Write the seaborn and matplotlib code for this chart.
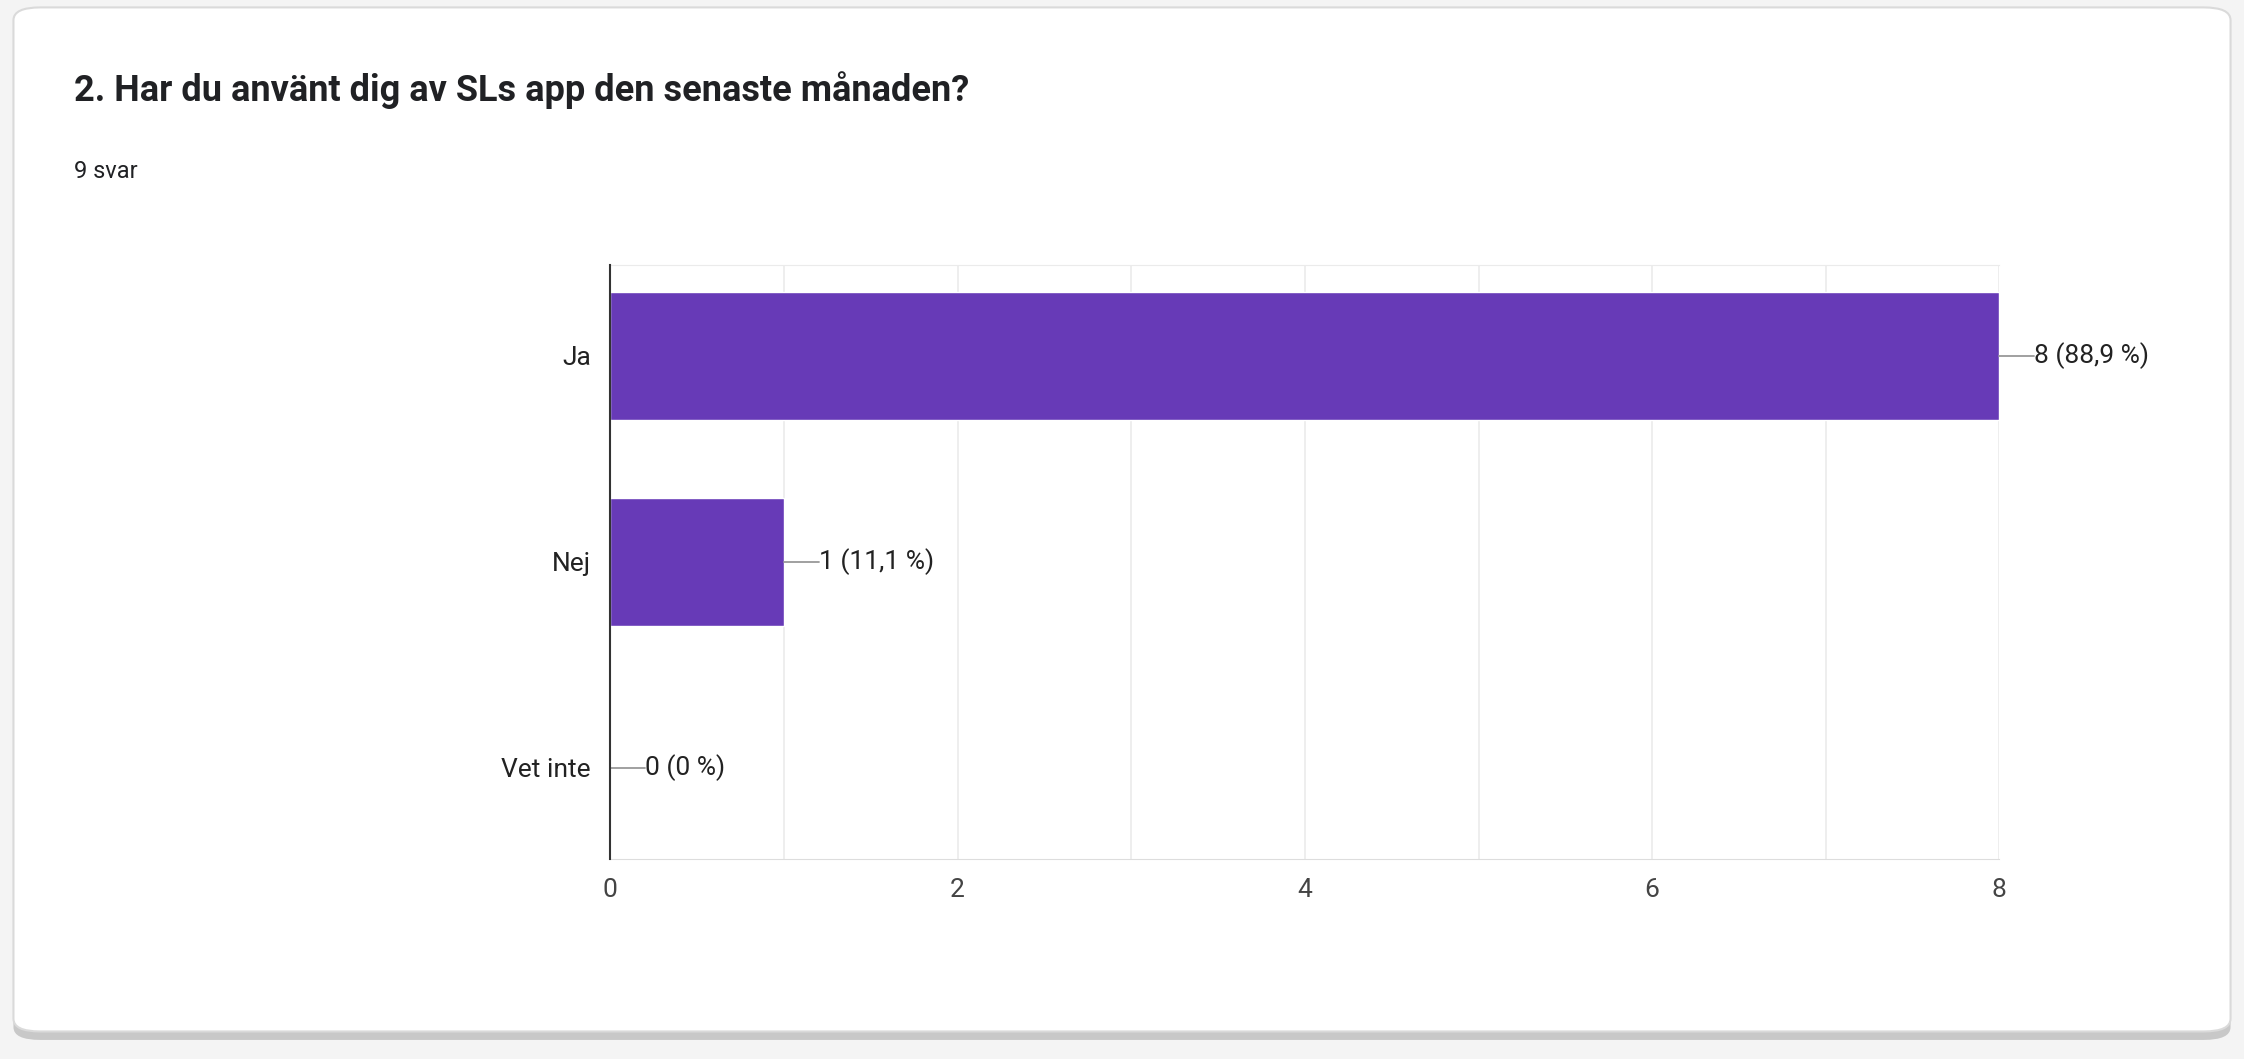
import matplotlib
matplotlib.use("Agg")
import matplotlib.pyplot as plt
import seaborn as sns
import pandas as pd
from matplotlib.patches import FancyBboxPatch

# data
kategorier = ["Ja", "Nej", "Vet inte"]
antal = [8, 1, 0]
etiketter = ["8 (88,9 %)", "1 (11,1 %)", "0 (0 %)"]
x_ticks = [0, 2, 4, 6, 8]

sns.set_style("white")
plt.rcParams['font.family'] = ['Roboto', 'DejaVu Sans']

fig = plt.figure(figsize=(22.44, 10.59), dpi=100)
fig.patch.set_facecolor("#f4f4f4")

# kortet med skugga
skugga = FancyBboxPatch((0.006, 0.018), 0.988, 0.975, boxstyle="round,pad=0,rounding_size=0.012",
                        transform=fig.transFigure, facecolor="#c8c8c8", edgecolor="none", zorder=0)
kort = FancyBboxPatch((0.006, 0.026), 0.988, 0.967, boxstyle="round,pad=0,rounding_size=0.012",
                      transform=fig.transFigure, facecolor="white", edgecolor="#dadada", linewidth=1.5, zorder=1)
fig.patches.extend([skugga, kort])

fig.text(0.033, 0.915, "2. Har du använt dig av SLs app den senaste månaden?",
         fontsize=26, fontweight="bold", color="#202124", va="center", zorder=3)
fig.text(0.033, 0.838, "9 svar", fontsize=17, color="#202124", va="center", zorder=3)

ax = fig.add_axes([0.272, 0.189, 0.619, 0.561])
ax.set_zorder(5)
ax.set_facecolor("none")
df = pd.DataFrame({"kategori": kategorier, "antal": antal})
sns.barplot(data=df, x="antal", y="kategori", color="#673AB7", saturation=1,
            width=0.62, ax=ax, zorder=3)

ax.set_xlim(0, 8)
ax.set_xticks(x_ticks)
ax.set_xticklabels([str(t) for t in x_ticks])
ax.set_xticks(range(0, 9), minor=True)
ax.grid(axis="x", which="both", color="#ebebeb", linewidth=1.2, zorder=0)
ax.set_xlabel("")
ax.set_ylabel("")
ax.tick_params(axis="both", which="both", length=0, labelsize=19, colors="#444444", pad=14)
ax.tick_params(axis="y", colors="#222222")
ax.spines["right"].set_visible(False)
ax.spines["top"].set_color("#ebebeb")
ax.spines["bottom"].set_color("#dddddd")
ax.spines["left"].set_color("#333333")
ax.spines["left"].set_linewidth(1.5)
ax.spines["left"].set_zorder(5)

for i, (v, txt) in enumerate(zip(antal, etiketter)):
    ax.plot([v, v + 0.2], [i, i], color="#999999", linewidth=1.3, zorder=4, clip_on=False)
    ax.text(v + 0.2, i, txt, va="center", ha="left", fontsize=19, color="#222222")

fig.savefig("out.png", dpi=100, facecolor=fig.get_facecolor())
